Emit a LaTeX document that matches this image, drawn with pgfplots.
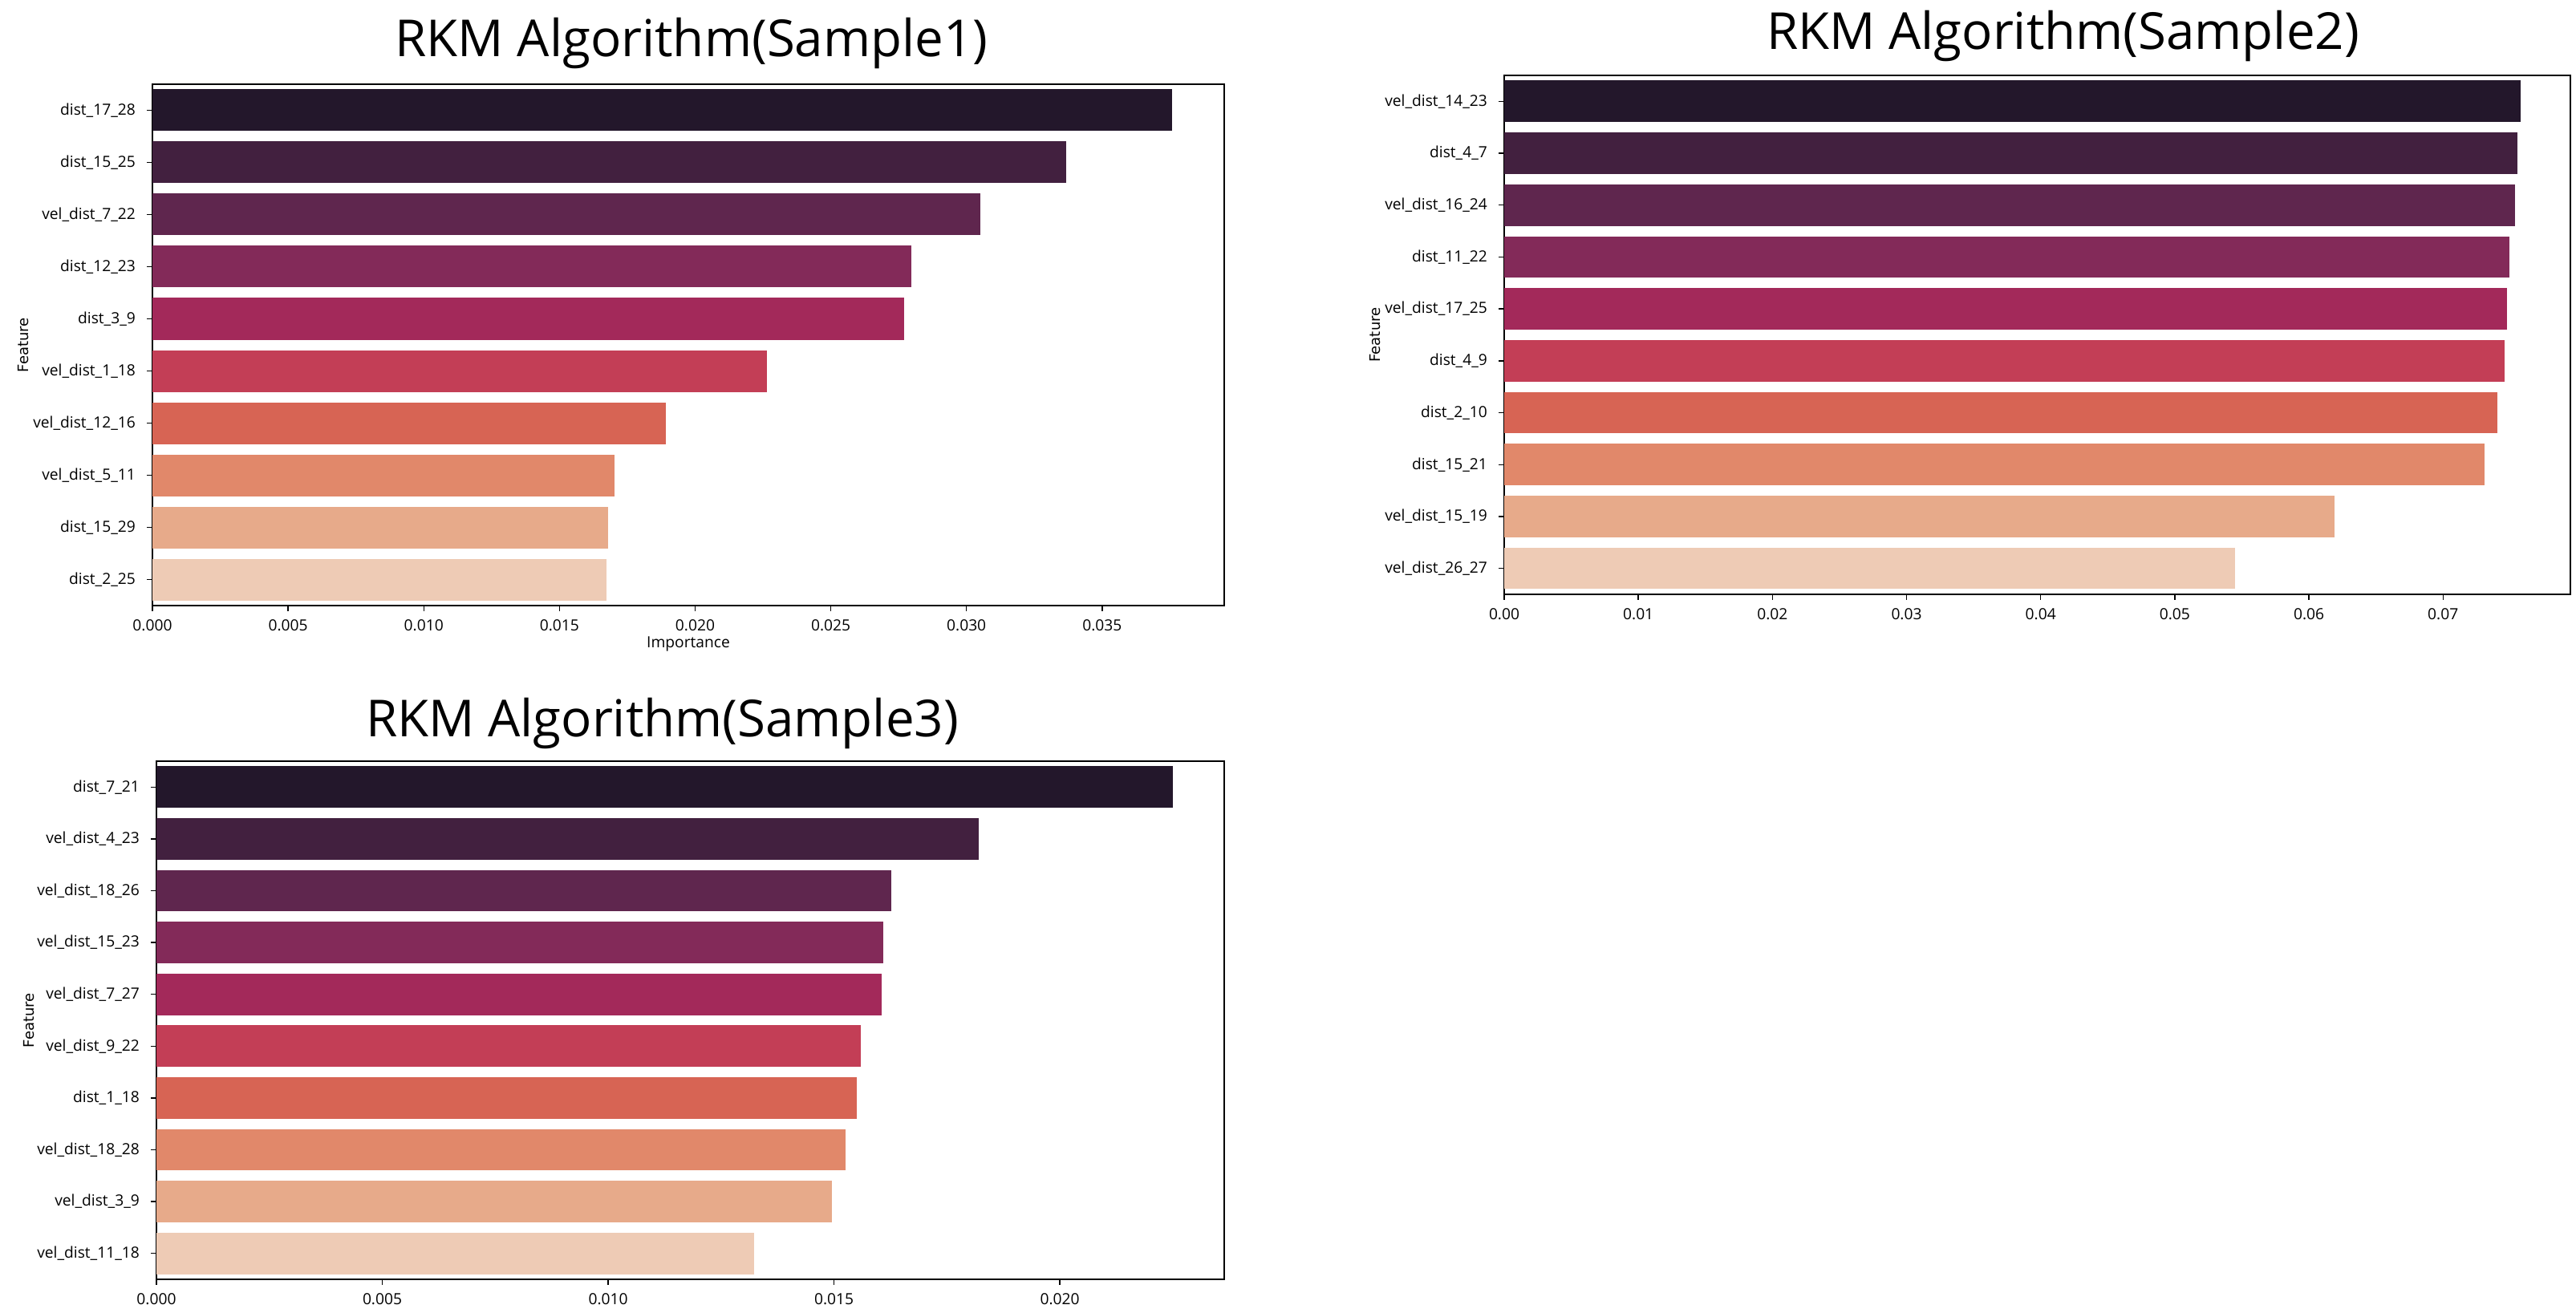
\documentclass[border=0pt]{standalone}
\usepackage{pgfplots}
\pgfplotsset{compat=1.18}
\usepackage{fontspec}
\setmainfont{Open Sans}
\newfontfamily\labfont{DejaVu Sans}
\definecolor{c1}{RGB}{35,23,43}
\definecolor{c2}{RGB}{66,32,63}
\definecolor{c3}{RGB}{95,38,78}
\definecolor{c4}{RGB}{131,42,89}
\definecolor{c5}{RGB}{163,41,90}
\definecolor{c6}{RGB}{195,62,86}
\definecolor{c7}{RGB}{215,100,84}
\definecolor{c8}{RGB}{225,136,106}
\definecolor{c9}{RGB}{231,170,138}
\definecolor{c10}{RGB}{238,203,181}
\newcommand{\rbar}[3]{\addplot[fill=#1, draw=none] coordinates {(#2,#3)};}
\pgfplotsset{
  every axis title shift=0pt,
  rkm/.style={
    scale only axis,
    anchor=north west,
    xbar, bar width=0.8, bar shift=0pt,
    y dir=reverse,
    ymin=-0.5, ymax=9.5,
    ytick={0,...,9},
    xmin=0,
    scaled x ticks=false,
    tick align=outside,
    xtick pos=bottom, ytick pos=left,
    major tick length=1.75pt,
    axis line style={line width=0.45pt},
    tick style={line width=0.35pt, black},
    ticklabel style={font=\fontsize{4.8}{5.5}\selectfont},
    xticklabel style={yshift=1pt},
    /pgf/number format/assume math mode=true,
    /pgf/number format/fixed,
    /pgf/number format/fixed zerofill,
    title style={font=\fontsize{15.9}{17}\selectfont, anchor=base},
    ylabel={Feature},
    ylabel style={font=\labfont\fontsize{4.5}{5}\selectfont, anchor=center},
    xlabel style={font=\fontsize{4.8}{5.5}\selectfont, anchor=center},
  }
}
\begin{document}
\begin{tikzpicture}
\path[use as bounding box] (0,0) rectangle (802.75pt,409.25pt);
% Sample 1
\begin{axis}[rkm,
  at={(47.5pt,383pt)},
  width=334pt, height=162.5pt,
  xmax=0.0395,
  xtick={0,0.005,0.010,0.015,0.020,0.025,0.030,0.035},
  /pgf/number format/precision=3,
  yticklabels={dist\_17\_28,dist\_15\_25,vel\_dist\_7\_22,dist\_12\_23,dist\_3\_9,vel\_dist\_1\_18,vel\_dist\_12\_16,vel\_dist\_5\_11,dist\_15\_29,dist\_2\_25},
  title={RKM Algorithm(Sample1)},
  title style={at={(0.5,1)}, yshift=8.5pt, xshift=1pt},
  xlabel={Importance},
  xlabel style={at={(axis description cs:0.5,-0.073)}},
  ylabel style={at={(axis description cs:-0.1205,0.5)}},
]
\rbar{c1}{0.03758}{0}
\rbar{c2}{0.03367}{1}
\rbar{c3}{0.03052}{2}
\rbar{c4}{0.02797}{3}
\rbar{c5}{0.02770}{4}
\rbar{c6}{0.02264}{5}
\rbar{c7}{0.01891}{6}
\rbar{c8}{0.01703}{7}
\rbar{c9}{0.01679}{8}
\rbar{c10}{0.01673}{9}
\end{axis}
% Sample 2
\begin{axis}[rkm,
  at={(468.75pt,385.75pt)},
  width=332.25pt, height=161.75pt,
  xmax=0.0795,
  xtick={0,0.01,0.02,0.03,0.04,0.05,0.06,0.07},
  /pgf/number format/precision=2,
  yticklabels={vel\_dist\_14\_23,dist\_4\_7,vel\_dist\_16\_24,dist\_11\_22,vel\_dist\_17\_25,dist\_4\_9,dist\_2\_10,dist\_15\_21,vel\_dist\_15\_19,vel\_dist\_26\_27},
  title={RKM Algorithm(Sample2)},
  title style={at={(0.5,1)}, yshift=8pt, xshift=8pt},
  ylabel style={at={(axis description cs:-0.1211,0.5)}},
]
\rbar{c1}{0.07581}{0}
\rbar{c2}{0.07556}{1}
\rbar{c3}{0.07537}{2}
\rbar{c4}{0.07494}{3}
\rbar{c5}{0.07476}{4}
\rbar{c6}{0.07457}{5}
\rbar{c7}{0.07408}{6}
\rbar{c8}{0.07309}{7}
\rbar{c9}{0.06190}{8}
\rbar{c10}{0.05449}{9}
\end{axis}
% Sample 3
\begin{axis}[rkm,
  at={(48.75pt,172pt)},
  width=332.75pt, height=161.5pt,
  xmax=0.02364,
  xtick={0,0.005,0.010,0.015,0.020},
  /pgf/number format/precision=3,
  yticklabels={dist\_7\_21,vel\_dist\_4\_23,vel\_dist\_18\_26,vel\_dist\_15\_23,vel\_dist\_7\_27,vel\_dist\_9\_22,dist\_1\_18,vel\_dist\_18\_28,vel\_dist\_3\_9,vel\_dist\_11\_18},
  title={RKM Algorithm(Sample3)},
  title style={at={(0.5,1)}, yshift=7.6pt, xshift=-8.75pt},
  ylabel style={at={(axis description cs:-0.1195,0.5)}},
]
\rbar{c1}{0.02250}{0}
\rbar{c2}{0.01820}{1}
\rbar{c3}{0.01627}{2}
\rbar{c4}{0.01610}{3}
\rbar{c5}{0.01605}{4}
\rbar{c6}{0.01559}{5}
\rbar{c7}{0.01550}{6}
\rbar{c8}{0.01526}{7}
\rbar{c9}{0.01495}{8}
\rbar{c10}{0.01324}{9}
\end{axis}
\end{tikzpicture}
\end{document}
